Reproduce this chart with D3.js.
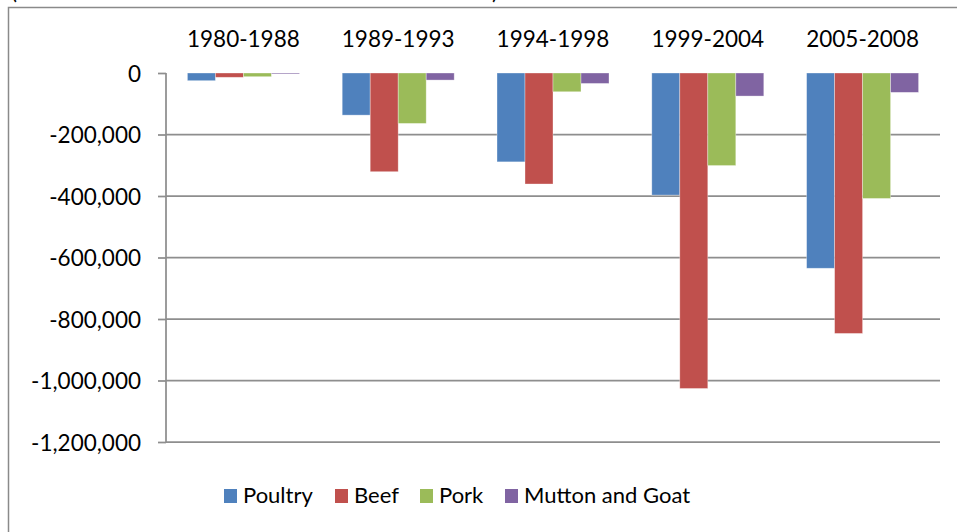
<!DOCTYPE html>
<html>
<head>
<meta charset="utf-8">
<script src="https://cdn.jsdelivr.net/npm/d3@7"></script>
<style>
  html, body { margin: 0; padding: 0; background: #fff; }
  svg { display: block; font-family: Lato, "Open Sans", sans-serif; }
</style>
</head>
<body>
<svg id="chart" width="957" height="532"></svg>
<script>
// periods along the top, meat types as series (thousands of constant 2005 US dollars)
const periods = ['1980-1988', '1989-1993', '1994-1998', '1999-2004', '2005-2008'];
const seriesNames = ['Poultry', 'Beef', 'Pork', 'Mutton and Goat'];
const colors = ['#4F81BD', '#C0504D', '#9BBB59', '#8064A2'];

const poultry = [-25000, -137000, -289000, -397000, -635000];
const beef    = [-14000, -321000, -361000, -1026000, -847000];
const pork    = [-12000, -164000, -61000, -301000, -408000];
const mutton  = [-3000, -23000, -34000, -75000, -63000];

const yTicks = [0, -200000, -400000, -600000, -800000, -1000000, -1200000];

const values = [poultry, beef, pork, mutton];

const svg = d3.select('#chart');

const plot = { left: 166, right: 940, top: 73, bottom: 442 };

// outer chart frame (cut by the picture on the right and bottom)
svg.append('path')
    .attr('d', 'M8.5,540 V7.5 H970')
    .attr('fill', 'none')
    .attr('stroke', '#8a8a8a')
    .attr('stroke-width', 1.5);

// title line above the frame, cropped by the top edge like in the source
svg.append('text')
    .attr('x', 11)
    .attr('y', -1.5)
    .attr('font-size', 22.5)
    .attr('fill', '#000')
    .attr('textLength', 487)
    .attr('lengthAdjust', 'spacing')
    .text('(Thousands of constant 2005 US dollars)');

const x0 = d3.scaleBand()
    .domain(periods)
    .range([plot.left, plot.right])
    .paddingInner(0.2765)
    .paddingOuter(0.2765 / 2);

const x1 = d3.scaleBand()
    .domain(seriesNames)
    .range([0, x0.bandwidth()]);

const y = d3.scaleLinear()
    .domain([-1200000, 0])
    .range([plot.bottom, plot.top]);

// gridlines
svg.append('g')
    .selectAll('line')
    .data(yTicks.filter(d => d !== 0))
    .join('line')
    .attr('x1', plot.left)
    .attr('x2', plot.right)
    .attr('y1', d => y(d))
    .attr('y2', d => y(d))
    .attr('stroke', '#8e8e8e')
    .attr('stroke-width', 1.75);

// y axis
const yAxis = svg.append('g')
    .attr('transform', `translate(${plot.left},0)`)
    .call(d3.axisLeft(y)
        .tickValues(yTicks)
        .tickSize(8)
        .tickPadding(17)
        .tickFormat(d3.format(',')));

yAxis.select('.domain')
    .attr('d', `M0,${plot.top}V${plot.bottom}`)
    .attr('stroke', '#8e8e8e')
    .attr('stroke-width', 1.75);
yAxis.selectAll('.tick line')
    .attr('stroke', '#8e8e8e')
    .attr('stroke-width', 1.75);
yAxis.selectAll('.tick text')
    .attr('font-family', 'Lato, "Open Sans", sans-serif')
    .attr('font-size', 22.5)
    .attr('fill', '#000')
    .attr('dy', '0.36em')
    .text(d => d === 0 ? '0' : d3.format(',')(d).replace('−', '-'));

// category labels on top
svg.append('g')
    .selectAll('text')
    .data(periods)
    .join('text')
    .attr('x', d => x0(d) + x0.bandwidth() / 2)
    .attr('y', 47)
    .attr('text-anchor', 'middle')
    .attr('font-size', 22.5)
    .attr('fill', '#000')
    .text(d => d);

// bars
const groups = svg.append('g')
    .selectAll('g')
    .data(periods)
    .join('g')
    .attr('transform', d => `translate(${x0(d)},0)`);

groups.selectAll('rect')
    .data((p, pi) => seriesNames.map((s, si) => ({ s, si, v: values[si][pi] })))
    .join('rect')
    .attr('x', d => x1(d.s))
    .attr('width', x1.bandwidth())
    .attr('y', d => y(0))
    .attr('height', d => y(d.v) - y(0))
    .attr('fill', d => colors[d.si])
    .attr('stroke', 'rgba(255,255,255,0.45)')
    .attr('stroke-width', 0.75);

// legend
const legendItems = [
    { name: 'Poultry', x: 224 },
    { name: 'Beef', x: 335 },
    { name: 'Pork', x: 420 },
    { name: 'Mutton and Goat', x: 505 }
];

const legend = svg.append('g')
    .selectAll('g')
    .data(legendItems)
    .join('g')
    .attr('transform', d => `translate(${d.x},489)`);

legend.append('rect')
    .attr('width', 13)
    .attr('height', 14)
    .attr('fill', (d, i) => colors[i]);

legend.append('text')
    .attr('x', 19)
    .attr('y', 14)
    .attr('font-size', 22)
    .attr('fill', '#000')
    .text(d => d.name);
</script>
</body>
</html>
